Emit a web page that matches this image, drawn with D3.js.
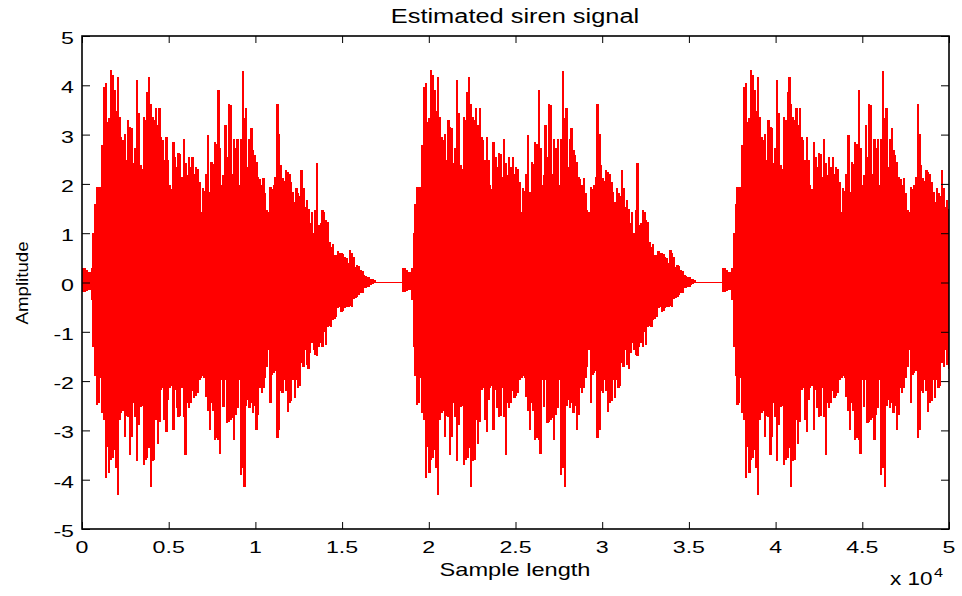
<!DOCTYPE html>
<html>
<head>
<meta charset="utf-8">
<script src="https://cdn.jsdelivr.net/npm/d3@7"></script>
<style>
  body { margin: 0; background: #fff; }
  text { font-family: "Liberation Sans", Arial, sans-serif; fill: #000; }
</style>
</head>
<body>
<div id="chart"></div>
<script>
// envelope of one siren burst: max / min per 100 samples
var binSize = 100;
var burstStart = [0, 18470, 36930];

var envHi = [
  0.29, 0.29, 0.25, 0.22, 0.22, 0.3, 1.0, 1.6, 1.94, 1.94,
  1.94, 2.79, 3.97, 4.04, 3.26, 3.33, 4.31, 4.2, 3.9, 3.47,
  4.17, 3.36, 2.96, 2.9, 3.02, 2.48, 3.3, 3.16, 3.13, 2.42,
  2.72, 4.11, 3.43, 2.38, 2.3, 3.36, 3.3, 3.87, 4.17, 3.63,
  3.36, 3.3, 3.53, 3.2, 3.53, 2.96, 2.9, 2.48, 2.96, 2.48,
  1.98, 1.9, 2.86, 2.55, 2.35, 2.62, 2.6, 2.15, 2.92, 2.42,
  2.18, 2.55, 2.35, 2.55, 2.21, 2.35, 2.3, 2.04, 1.44, 1.91,
  1.85, 2.21, 2.99, 1.84, 2.45, 2.4, 2.86, 2.8, 3.9, 2.72,
  1.98, 2.18, 3.2, 2.55, 3.63, 3.6, 2.21, 2.92, 2.72, 2.92,
  1.98, 2.92, 4.28, 3.33, 3.53, 2.35, 2.92, 3.13, 2.69, 2.59,
  2.45, 2.15, 2.1, 1.98, 2.11, 1.81, 1.47, 1.44, 1.94, 1.9,
  1.98, 2.15, 3.63, 3.02, 2.38, 2.11, 2.05, 2.28, 2.25, 2.2,
  2.04, 1.84, 1.64, 1.91, 1.81, 1.75, 2.28, 1.91, 1.53, 1.67,
  1.5, 1.2, 1.44, 1.0, 1.47, 2.42, 1.17, 1.2, 1.47, 1.42,
  1.27, 1.22, 0.83, 0.73, 0.79, 0.56, 0.55, 0.63, 0.6, 0.59,
  0.57, 0.52, 0.5, 0.39, 0.66, 0.59, 0.52, 0.32, 0.36, 0.34,
  0.25, 0.24, 0.15, 0.14, 0.12, 0.11, 0.08, 0.07, 0.05, 0.02,
  0, 0, 0, 0, 0, 0, 0, 0, 0, 0, 0, 0, 0, 0
];

var envLo = [
  -0.2, -0.2, -0.17, -0.15, -0.15, -0.35, -1.3, -1.9, -2.48, -2.45,
  -1.94, -2.65, -2.79, -3.97, -3.33, -3.87, -3.6, -3.55, -3.4, -3.77,
  -4.31, -2.79, -2.65, -2.6, -3.13, -2.7, -2.72, -3.5, -3.13, -2.45,
  -2.72, -3.63, -2.89, -2.52, -2.5, -3.7, -3.6, -3.55, -3.36, -4.14,
  -3.63, -3.6, -2.79, -3.27, -2.82, -2.18, -2.15, -2.79, -3.03, -2.38,
  -2.15, -2.1, -2.99, -2.18, -2.55, -2.72, -2.7, -2.15, -2.72, -3.5,
  -2.45, -2.55, -2.45, -2.2, -2.35, -2.3, -2.25, -1.98, -1.94, -1.9,
  -1.94, -2.32, -2.6, -2.99, -2.45, -2.6, -3.2, -3.15, -3.2, -3.47,
  -1.98, -2.52, -1.98, -2.86, -2.82, -2.79, -2.75, -3.2, -2.68, -2.55,
  -1.98, -3.9, -3.77, -4.14, -2.5, -2.38, -2.55, -2.45, -2.65, -2.5,
  -2.99, -2.68, -2.15, -2.25, -2.15, -1.94, -1.71, -1.37, -2.45, -1.88,
  -1.84, -1.8, -3.16, -2.99, -2.2, -2.25, -1.98, -2.2, -2.62, -2.45,
  -2.4, -1.98, -2.35, -1.98, -2.15, -2.1, -1.64, -1.71, -1.37, -1.68,
  -1.75, -1.44, -1.23, -1.37, -1.47, -1.5, -1.3, -1.23, -1.3, -1.0,
  -1.27, -0.9, -0.88, -0.9, -0.76, -0.74, -0.69, -0.52, -0.5, -0.59,
  -0.57, -0.52, -0.5, -0.49, -0.47, -0.49, -0.33, -0.32, -0.3, -0.26,
  -0.22, -0.21, -0.12, -0.11, -0.1, -0.09, -0.05, -0.04, -0.02, -0.01,
  0, 0, 0, 0, 0, 0, 0, 0, 0, 0, 0, 0, 0, 0
];

var xTickValues = [0, 5000, 10000, 15000, 20000, 25000, 30000, 35000, 40000, 45000, 50000];
var xTickLabels = ['0', '0.5', '1', '1.5', '2', '2.5', '3', '3.5', '4', '4.5', '5'];
var yTickValues = [-5, -4, -3, -2, -1, 0, 1, 2, 3, 4, 5];

var width = 962, height = 596;
var margin = { top: 36, right: 13, bottom: 67, left: 82 };
var chart_width = width - margin.left - margin.right;
var chart_height = height - margin.top - margin.bottom;

var svg = d3.select('#chart')
    .append('svg')
    .attr('width', width)
    .attr('height', height);

var x = d3.scaleLinear()
    .domain([0, 50000])
    .range([margin.left, margin.left + chart_width]);

var y = d3.scaleLinear()
    .domain([-5, 5])
    .range([margin.top + chart_height, margin.top]);

svg.append('clipPath')
    .attr('id', 'plot-clip')
    .append('rect')
    .attr('x', margin.left)
    .attr('y', margin.top)
    .attr('width', chart_width)
    .attr('height', chart_height);

// one min-max column per bin, for each burst
var bins = [];
burstStart.forEach(function (s, k) {
    var next = k + 1 < burstStart.length ? burstStart[k + 1] : 50000;
    envHi.forEach(function (h, i) {
        bins.push({ a: s + i * binSize, b: s + (i + 1) * binSize, hi: h, lo: envLo[i] });
    });
    // flat stretch up to the next burst
    var end = s + envHi.length * binSize;
    if (end < next) bins.push({ a: end, b: next, hi: 0, lo: 0 });
});

svg.append('g')
    .attr('clip-path', 'url(#plot-clip)')
    .attr('shape-rendering', 'crispEdges')
    .selectAll('rect')
    .data(bins)
    .enter()
    .append('rect')
    .attr('x', function (d) { return x(d.a); })
    .attr('width', function (d) { return x(d.b) - x(d.a) + 0.6; })
    .attr('y', function (d) { return Math.min(y(d.hi), y(0) - 0.7); })
    .attr('height', function (d) { return Math.max(y(d.lo) - y(d.hi), 1.4); })
    .attr('fill', '#ff0000');

// inward ticks on all four sides
svg.append('g')
    .attr('transform', 'translate(0,' + (margin.top + chart_height) + ')')
    .call(d3.axisBottom(x).tickValues(xTickValues).tickSize(-7).tickFormat(''))
    .call(function (g) { g.select('.domain').remove(); });

svg.append('g')
    .attr('transform', 'translate(0,' + margin.top + ')')
    .call(d3.axisTop(x).tickValues(xTickValues).tickSize(-7).tickFormat(''))
    .call(function (g) { g.select('.domain').remove(); });

svg.append('g')
    .attr('transform', 'translate(' + margin.left + ',0)')
    .call(d3.axisLeft(y).tickValues(yTickValues).tickSize(-8).tickFormat(''))
    .call(function (g) { g.select('.domain').remove(); });

svg.append('g')
    .attr('transform', 'translate(' + (margin.left + chart_width) + ',0)')
    .call(d3.axisRight(y).tickValues(yTickValues).tickSize(-8).tickFormat(''))
    .call(function (g) { g.select('.domain').remove(); });

svg.append('rect')
    .attr('x', margin.left)
    .attr('y', margin.top)
    .attr('width', chart_width)
    .attr('height', chart_height)
    .attr('fill', 'none')
    .attr('stroke', '#000')
    .attr('stroke-width', 1.6);

// tick labels (the picture's text is stretched sideways)
svg.selectAll('.xlab')
    .data(xTickValues)
    .enter()
    .append('text')
    .attr('class', 'xlab')
    .attr('text-anchor', 'middle')
    .attr('font-size', 16)
    .attr('transform', function (d) {
        return 'translate(' + x(d) + ',553) scale(1.45,1)';
    })
    .text(function (d, i) { return xTickLabels[i]; });

svg.selectAll('.ylab')
    .data(yTickValues)
    .enter()
    .append('text')
    .attr('class', 'ylab')
    .attr('text-anchor', 'end')
    .attr('font-size', 16)
    .attr('transform', function (d) {
        return 'translate(74,' + (y(d) + 8) + ') scale(1.45,1)';
    })
    .text(function (d) { return d; });

svg.append('text')
    .attr('text-anchor', 'middle')
    .attr('font-size', 20)
    .attr('transform', 'translate(515,23) scale(1.27,1)')
    .text('Estimated siren signal');

svg.append('text')
    .attr('text-anchor', 'middle')
    .attr('font-size', 17.5)
    .attr('transform', 'translate(515,576) scale(1.35,1)')
    .text('Sample length');

svg.append('text')
    .attr('text-anchor', 'middle')
    .attr('font-size', 17)
    .attr('transform', 'translate(28,283) rotate(-90) scale(1.1,1)')
    .text('Amplitude');

svg.append('text')
    .attr('font-size', 18)
    .attr('transform', 'translate(890,585) scale(1.25,1)')
    .text('x 10');

svg.append('text')
    .attr('font-size', 13)
    .attr('transform', 'translate(934,577) scale(1.25,1)')
    .text('4');
</script>
</body>
</html>
